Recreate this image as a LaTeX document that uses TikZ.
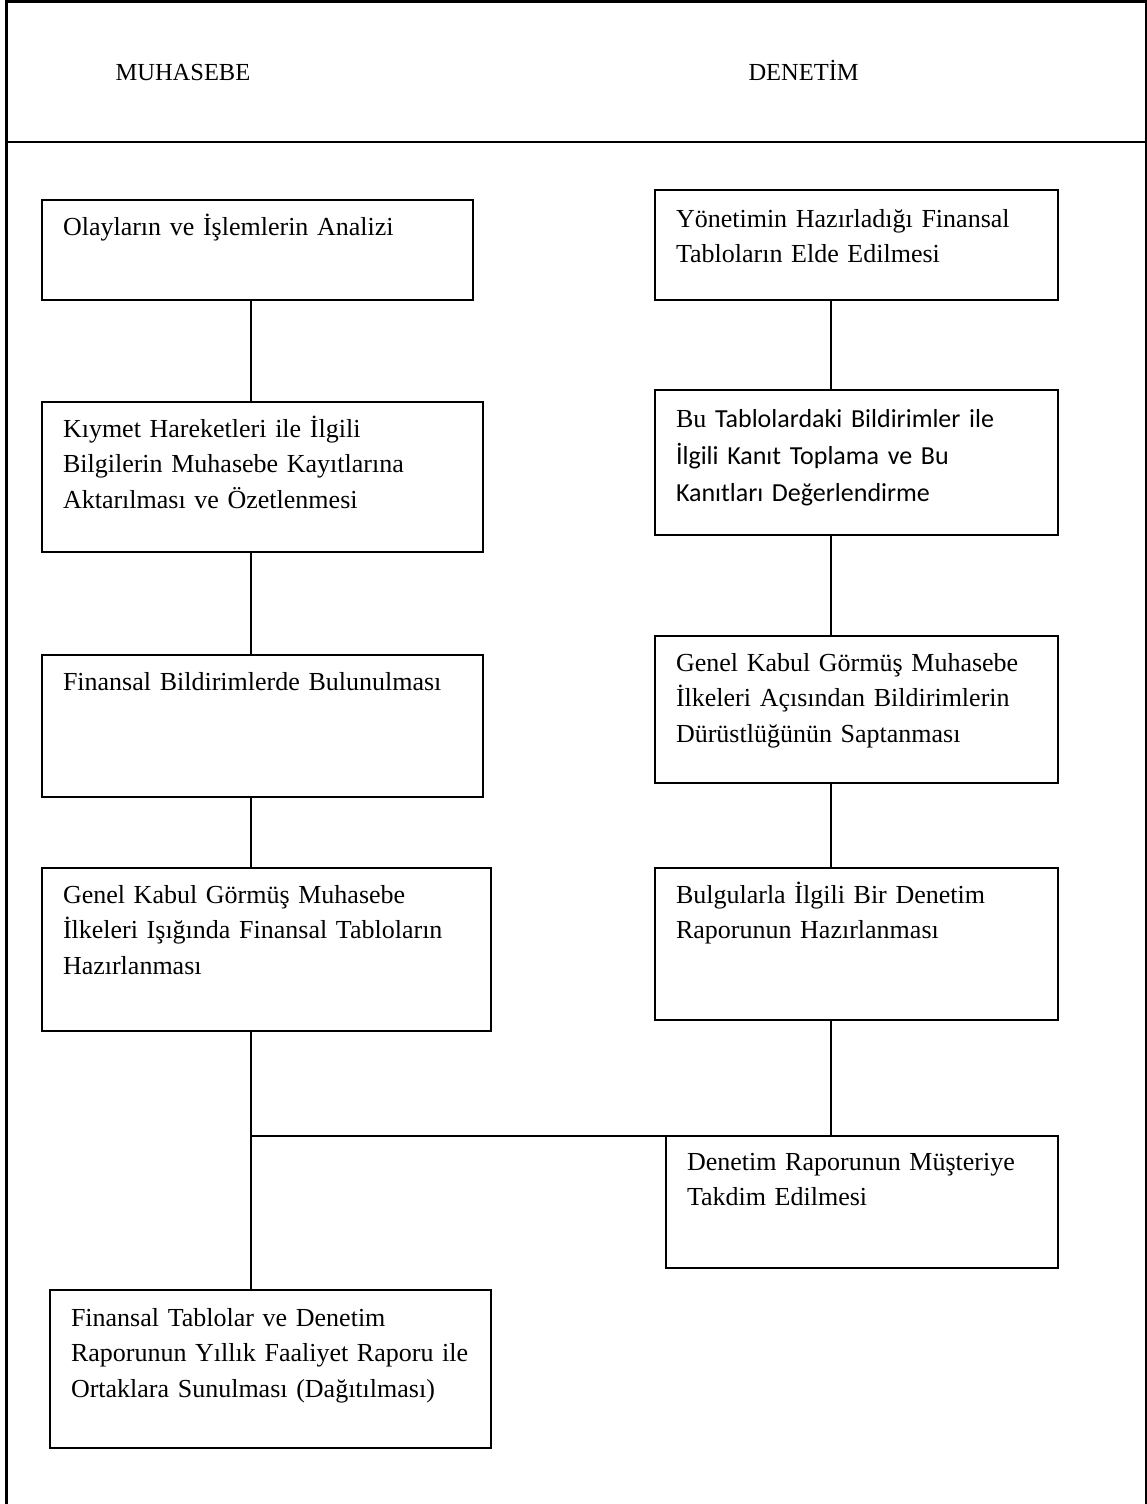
\documentclass[tikz,border=0pt]{standalone}
\usepackage{fontspec}
\setmainfont{Liberation Serif}
\newfontfamily\calibrifont{Carlito}
\usepackage{tikz}
\usetikzlibrary{positioning}

\begin{document}
\begin{tikzpicture}[x=1pt,y=-1pt]
\tikzstyle{stage}=[draw, line width=2pt, anchor=north west, align=left, inner xsep=21pt, inner ysep=0pt, outer sep=0pt, text height=35pt, font=\fontsize{26}{35.5}\selectfont]
\tikzstyle{link}=[line width=1.5pt]
\tikzstyle{head}=[anchor=base west, font=\fontsize{24.5}{30}\selectfont]
\useasboundingbox (0,0) rectangle (1147,1504);

% frame and header
\draw[line width=3pt] (6,1504) -- (6,2) -- (1146,2) -- (1146,1504);
\draw[line width=2pt] (6,142) -- (1146,142);
\node[head] (muh) at (112,81) {MUHASEBE};
\node[head] (den) at (745,81) {DENETİM};

% connector columns
\coordinate (lx) at (251,0);
\coordinate (rx) at (831,0);

% muhasebe column
\node[stage, text width=389pt, text depth=65pt] (m1) at (42,200) {Olayların ve İşlemlerin Analizi};
\node[stage, text width=399pt, text depth=115pt] (m2) at (42,402) {Kıymet Hareketleri ile İlgili\\Bilgilerin Muhasebe Kayıtlarına\\Aktarılması ve Özetlenmesi};
\node[stage, text width=399pt, text depth=107pt] (m3) at (42,655) {Finansal Bildirimlerde Bulunulması};
\node[stage, text width=407pt, text depth=128pt] (m4) at (42,868) {Genel Kabul Görmüş Muhasebe\\İlkeleri Işığında Finansal Tabloların\\Hazırlanması};
\node[stage, text width=399pt, text depth=122pt, text height=36pt] (m5) at (50,1290) {Finansal Tablolar ve Denetim\\Raporunun Yıllık Faaliyet Raporu ile\\Ortaklara Sunulması (Dağıtılması)};

% denetim column
\node[stage, text width=361pt, text depth=73pt, text height=37pt] (d1) at (655,190) {Yönetimin Hazırladığı Finansal\\Tabloların Elde Edilmesi};
\node[stage, text width=361pt, text depth=108pt, text height=37pt, font=\calibrifont\fontsize{26}{37}\selectfont] (d2) at (655,390) {{\rmfamily Bu} Tablolardaki Bildirimler ile\\İlgili Kanıt Toplama ve Bu\\Kanıtları Değerlendirme};
\node[stage, text width=361pt, text depth=112pt] (d3) at (655,636) {Genel Kabul Görmüş Muhasebe\\İlkeleri Açısından Bildirimlerin\\Dürüstlüğünün Saptanması};
\node[stage, text width=361pt, text depth=117pt] (d4) at (655,868) {Bulgularla İlgili Bir Denetim\\Raporunun Hazırlanması};
\node[stage, text width=350pt, text depth=98pt, text height=34pt] (d5) at (666,1136) {Denetim Raporunun Müşteriye\\Takdim Edilmesi};

% links
\draw[link] (m1.south -| lx) -- (m2.north -| lx);
\draw[link] (m2.south -| lx) -- (m3.north -| lx);
\draw[link] (m3.south -| lx) -- (m4.north -| lx);
\draw[link] (m4.south -| lx) -- (m5.north -| lx);
\draw[link] (d1.south -| rx) -- (d2.north -| rx);
\draw[link] (d2.south -| rx) -- (d3.north -| rx);
\draw[link] (d3.south -| rx) -- (d4.north -| rx);
\draw[link] (d4.south -| rx) -- (d5.north -| rx);
\draw[link] (d5.north -| lx) -- (d5.north -| rx);

\end{tikzpicture}
\end{document}
